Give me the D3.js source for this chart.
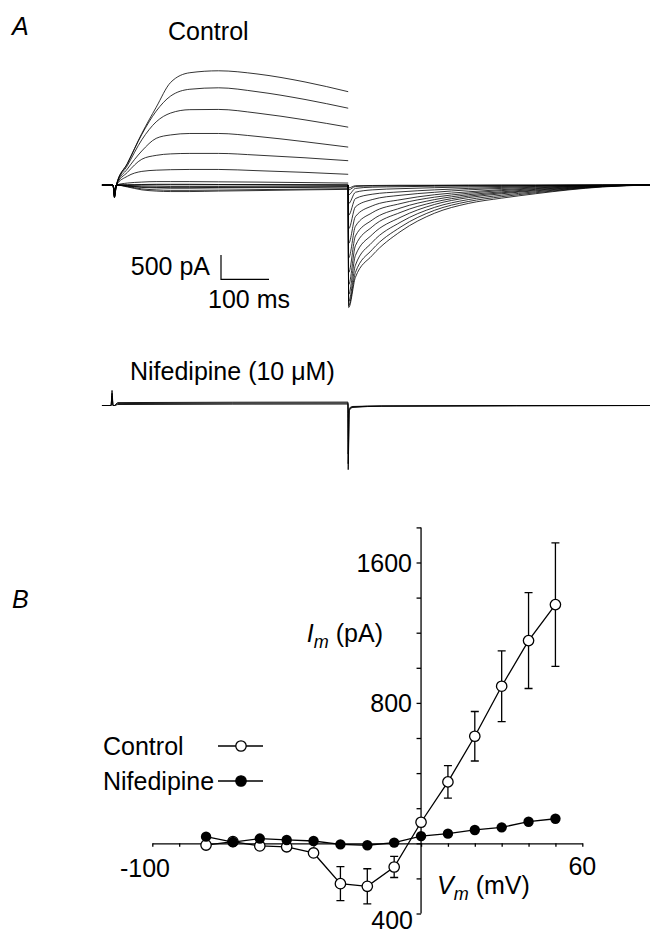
<!DOCTYPE html>
<html>
<head>
<meta charset="utf-8">
<script src="https://cdn.jsdelivr.net/npm/d3@7.9.0/dist/d3.min.js"></script>
<style>
  body { margin: 0; background: #fff; }
  svg { display: block; font-family: "Liberation Sans", Arial, Helvetica, sans-serif; }
</style>
</head>
<body>
<svg id="fig" width="650" height="931"></svg>
<script>
// ---- Panel A: current traces (time in ms, current in pA) ----
const stepTimes = [-23, 0, 3, 7, 30, 60, 90, 120, 160, 220, 300, 400, 490];
const tailTimes = [490, 491, 505, 540, 600, 670, 740, 810, 880, 950, 1020, 1120];

// outward part of each control trace, values at stepTimes
const controlSteps = [
  [0, 0, -260, 0, 445, 1060, 1600, 2110, 2310, 2350, 2285, 2120, 1920],
  [0, 0, -260, 0, 440, 1040, 1520, 1830, 1970, 2000, 1920, 1760, 1580],
  [0, 0, -250, 0, 400, 930, 1300, 1480, 1550, 1555, 1480, 1340, 1190],
  [0, 0, -240, 0, 330, 700, 960, 1030, 1060, 1060, 1000, 890, 780],
  [0, 0, -230, 0, 260, 530, 610, 640, 650, 650, 615, 560, 500],
  [0, 0, -220, 0, 180, 280, 305, 315, 320, 320, 295, 260, 220],
  [0, 0, -200, 0, 40, 60, 70, 70, 70, 65, 60, 50, 40],
  [0, 0, -180, 0, 0, 10, 15, 15, 15, 10, 10, 5, 0],
  [0, 0, -160, 0, -10, -20, -25, -30, -30, -30, -25, -20, -15],
  [0, 0, -150, 0, -20, -50, -60, -65, -65, -60, -55, -50, -40],
  [0, 0, -140, 0, -30, -80, -100, -110, -110, -105, -95, -85, -75],
  [0, 0, -130, 0, -40, -100, -125, -135, -135, -125, -115, -100, -90],
  [0, 0, -120, 0, -20, -40, -50, -55, -55, -50, -45, -40, -35],
  [0, 0, -110, 0, 5, 5, 5, 5, 5, 5, 5, 5, 5]
];

// tail part of each control trace, values at tailTimes
const controlTails = [
  [0, -2520, -1900, -1450, -950, -580, -380, -270, -180, -100, -40, 0],
  [0, -2480, -1800, -1330, -860, -520, -340, -240, -160, -90, -35, 0],
  [0, -2400, -1650, -1180, -760, -460, -300, -210, -140, -80, -30, 0],
  [0, -2250, -1450, -1020, -660, -400, -260, -180, -120, -70, -25, 0],
  [0, -2050, -1250, -860, -560, -350, -230, -160, -105, -60, -20, 0],
  [0, -1800, -1050, -720, -470, -300, -200, -140, -90, -50, -20, 0],
  [0, -1500, -850, -570, -380, -250, -170, -115, -75, -40, -15, 0],
  [0, -1200, -650, -430, -300, -200, -140, -95, -60, -30, -10, 0],
  [0, -900, -450, -300, -210, -150, -100, -70, -45, -25, -10, 0],
  [0, -620, -280, -190, -140, -100, -70, -50, -30, -15, -5, 0],
  [0, -380, -150, -100, -75, -55, -40, -30, -20, -10, -5, 0],
  [0, -200, -70, -45, -35, -25, -20, -15, -10, -5, 0, 0],
  [0, -100, -30, -20, -15, -10, -10, -5, -5, 0, 0, 0],
  [0, -60, -15, -10, -5, -5, 0, 0, 0, 0, 0, 0]
];

const nifTimes = [-23, -4, -2, 0, 3, 10, 489.5, 490, 492, 500, 560, 1120];
const nifTraces = [
  [0, 0, 310, 0, 0, 40, 50, -1320, -100, -40, -15, 0],
  [0, 0, 250, 0, 0, 20, 30, -1200, -80, -30, -10, 0],
  [0, 0, 200, 0, 0, 60, 70, -1000, -60, -20, -10, 0]
];

// ---- Panel B: I-V relation ----
const voltages = [-80, -70, -60, -50, -40, -30, -20, -10, 0, 10, 20, 30, 40, 50];
const controlI = [-10, 10, -15, -20, -55, -230, -245, -135, 120, 350, 610, 895, 1155, 1360];
const controlErr = [0, 0, 0, 0, 0, 97, 100, 60, 0, 93, 141, 202, 273, 352];
const nifI = [38, 7, 27, 19, 13, -6, -11, 4, 41, 55, 76, 91, 123, 140];
const yTicks = [-400, -200, 0, 200, 400, 600, 800, 1000, 1200, 1400, 1600, 1800];
const yLabels = [1600, 800];

const svg = d3.select("#fig");
const fs = 25;

// panel letters
svg.append("text").attr("x", 12).attr("y", 35).attr("font-size", fs)
  .attr("font-style", "italic").text("A");
svg.append("text").attr("x", 12).attr("y", 608).attr("font-size", fs)
  .attr("font-style", "italic").text("B");

// scales for the traces
const xA = d3.scaleLinear().domain([0, 500]).range([113, 353]);
const yCtl = d3.scaleLinear().domain([-2500, 2500]).range([185 + 121.5, 185 - 121.5]);
const yNif = d3.scaleLinear().domain([-2500, 2500]).range([405.5 + 121.5, 405.5 - 121.5]);

function traceLine(yScale) {
  return d3.line()
    .x(d => xA(d[0]))
    .y(d => yScale(d[1]))
    .curve(d3.curveMonotoneX);
}

const ctlLine = traceLine(yCtl);
const gA = svg.append("g");
controlSteps.forEach((s, i) => {
  // step and tail drawn as two pieces (no joining stroke at the step end)
  const step = stepTimes.map((t, j) => [t, s[j]]);
  const tail = tailTimes.map((t, j) => [t, controlTails[i][j]]);
  [step, tail].forEach(pts => {
    gA.append("path").attr("d", ctlLine(pts))
      .attr("fill", "none").attr("stroke", "#000").attr("stroke-width", 0.8);
  });
});

const nifLine = traceLine(yNif);
nifTraces.forEach(v => {
  gA.append("path").attr("d", nifLine(nifTimes.map((t, j) => [t, v[j]])))
    .attr("fill", "none").attr("stroke", "#000").attr("stroke-width", 0.9);
});

svg.append("text").attr("x", 168).attr("y", 40).attr("font-size", fs).text("Control");
svg.append("text").attr("x", 130).attr("y", 380).attr("font-size", fs).text("Nifedipine (10 \u03bcM)");

// scale bar: 500 pA, 100 ms
const barT = [225, 325], barI = [-1940, -1440];
gA.append("path")
  .attr("d", `M${xA(barT[0])},${yCtl(barI[1])}V${yCtl(barI[0])}H${xA(barT[1])}`)
  .attr("fill", "none").attr("stroke", "#000").attr("stroke-width", 1.2);
svg.append("text").attr("x", 210).attr("y", 275).attr("font-size", fs)
  .attr("text-anchor", "end").text("500 pA");
svg.append("text").attr("x", 208).attr("y", 308).attr("font-size", fs).text("100 ms");

// ---- Panel B ----
const xB = d3.scaleLinear().domain([-100, 60]).range([152.3, 582.3]);
const yB = d3.scaleLinear().domain([-400, 1600]).range([913.5, 562.5]);

const xAxis = svg.append("g").attr("transform", `translate(0,${yB(0)})`)
  .call(d3.axisBottom(xB).tickValues(d3.range(-100, 61, 10)).tickSize(3.5)
    .tickSizeOuter(0).tickFormat(""));
const yAxis = svg.append("g").attr("transform", `translate(${xB(0)},0)`)
  .call(d3.axisLeft(yB).tickValues(yTicks).tickSize(4.5).tickSizeOuter(0).tickFormat(""));
[xAxis, yAxis].forEach(a => {
  a.selectAll("path, line").attr("stroke", "#000").attr("stroke-width", 1.3);
});
yAxis.select(".domain").attr("d", `M0,${yB(-400)}V${yB(1800)}`);

svg.append("text").attr("x", 170).attr("y", 877).attr("font-size", fs)
  .attr("text-anchor", "end").text("-100");
svg.append("text").attr("x", xB(60)).attr("y", 875).attr("font-size", fs)
  .attr("text-anchor", "middle").text("60");
yLabels.forEach(v => {
  svg.append("text").attr("x", 412).attr("y", yB(v)).attr("dy", "0.36em")
    .attr("font-size", fs).attr("text-anchor", "end").text(v);
});
svg.append("text").attr("x", 413).attr("y", 929).attr("font-size", fs)
  .attr("text-anchor", "end").text("400");

// axis titles
const yt = svg.append("text").attr("x", 383).attr("y", 633).attr("dy", "0.36em")
  .attr("font-size", fs).attr("text-anchor", "end");
yt.append("tspan").attr("font-style", "italic").text("I");
yt.append("tspan").attr("font-style", "italic").attr("font-size", 18).attr("dy", 6).text("m");
yt.append("tspan").attr("dy", -6).text(" (pA)");

const xt = svg.append("text").attr("x", 437).attr("y", 885).attr("dy", "0.36em")
  .attr("font-size", fs);
xt.append("tspan").attr("font-style", "italic").text("V");
xt.append("tspan").attr("font-style", "italic").attr("font-size", 18).attr("dy", 6).text("m");
xt.append("tspan").attr("dy", -6).text(" (mV)");

// control series with error bars
const ivLine = d3.line().x(d => xB(d[0])).y(d => yB(d[1]));
const ctlPts = voltages.map((v, i) => [v, controlI[i], controlErr[i]]);
const nifPts = voltages.map((v, i) => [v, nifI[i]]);

const gB = svg.append("g");
ctlPts.filter(d => d[2] > 0).forEach(d => {
  const x = xB(d[0]), y1 = yB(d[1] - d[2]), y2 = yB(d[1] + d[2]);
  gB.append("path").attr("d", `M${x},${y1}V${y2}M${x - 4},${y1}H${x + 4}M${x - 4},${y2}H${x + 4}`)
    .attr("stroke", "#000").attr("stroke-width", 1.3).attr("fill", "none");
});
gB.append("path").attr("d", ivLine(ctlPts)).attr("fill", "none")
  .attr("stroke", "#000").attr("stroke-width", 1.3);
gB.selectAll(".ctl").data(ctlPts).enter().append("circle")
  .attr("cx", d => xB(d[0])).attr("cy", d => yB(d[1])).attr("r", 5.2)
  .attr("fill", "#fff").attr("stroke", "#000").attr("stroke-width", 1.3);

gB.append("path").attr("d", ivLine(nifPts)).attr("fill", "none")
  .attr("stroke", "#000").attr("stroke-width", 1.3);
gB.selectAll(".nif").data(nifPts).enter().append("circle")
  .attr("cx", d => xB(d[0])).attr("cy", d => yB(d[1])).attr("r", 5.2)
  .attr("fill", "#000");

// legend
const legend = [
  { name: "Control", y: 746, fill: "#fff" },
  { name: "Nifedipine", y: 781, fill: "#000" }
];
legend.forEach(l => {
  svg.append("text").attr("x", 103).attr("y", l.y).attr("dy", "0.36em")
    .attr("font-size", fs).text(l.name);
  svg.append("line").attr("x1", 218).attr("x2", 263).attr("y1", l.y).attr("y2", l.y)
    .attr("stroke", "#000").attr("stroke-width", 1.3);
  svg.append("circle").attr("cx", 241).attr("cy", l.y).attr("r", 5.2)
    .attr("fill", l.fill).attr("stroke", "#000").attr("stroke-width", 1.3);
});
</script>
</body>
</html>
